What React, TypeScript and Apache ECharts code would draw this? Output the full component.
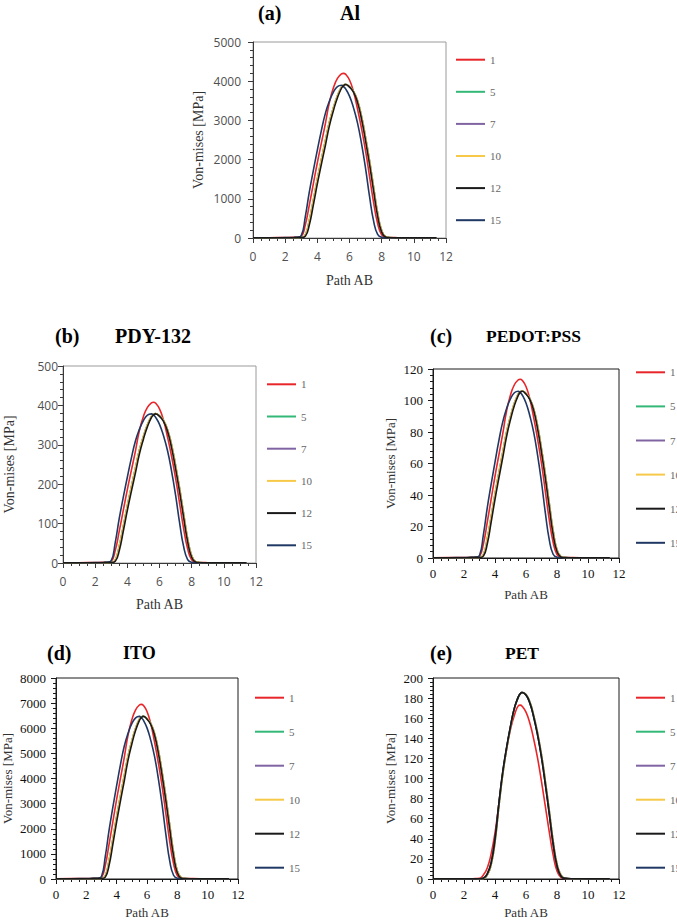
import { useEffect, useRef } from 'react';
import * as echarts from 'echarts';

// Position along path AB (shared sample points for every curve)
const PATH_AB = [0, 1, 2, 2.5, 2.75, 3, 3.25, 3.5, 3.75, 4, 4.25, 4.5, 4.75, 5, 5.25, 5.5, 5.625, 5.75, 6, 6.25, 6.5, 6.75, 7, 7.25, 7.5, 7.75, 8, 8.25, 8.5, 9, 10, 11, 11.4];

const SERIES_NAMES = ['1', '5', '7', '10', '12', '15'];

// (a) Al — von Mises stress [MPa]
const AL_1 = [5, 8, 12, 15, 20, 45, 330, 840, 1380, 1920, 2420, 2920, 3460, 3830, 4070, 4185, 4200, 4180, 4030, 3730, 3290, 2790, 2220, 1560, 900, 370, 80, 20, 12, 8, 5, 4, 3];
const AL_5_7_10 = [3, 4, 6, 8, 9, 12, 75, 450, 960, 1500, 2000, 2480, 2960, 3320, 3630, 3850, 3900, 3920, 3860, 3740, 3500, 3100, 2560, 1960, 1290, 640, 190, 35, 10, 4, 3, 3, 2];
const AL_12 = [3, 4, 6, 8, 9, 10, 45, 330, 840, 1380, 1880, 2360, 2860, 3250, 3580, 3820, 3885, 3915, 3850, 3720, 3460, 3030, 2480, 1870, 1200, 560, 150, 25, 8, 4, 3, 3, 2];
const AL_15 = [5, 7, 10, 14, 20, 60, 540, 1170, 1720, 2240, 2740, 3180, 3490, 3720, 3860, 3895, 3860, 3810, 3620, 3320, 2930, 2400, 1770, 1050, 430, 90, 20, 8, 5, 3, 3, 2, 2];

// (b) PDY-132
const PDY_1 = [0.5, 0.8, 1.2, 1.5, 1.9, 4.4, 32, 81.6, 134, 186.4, 235, 283.5, 336, 371.9, 395.2, 406.4, 408, 405.9, 391.3, 362.2, 319.5, 270.9, 215.6, 151.5, 87.4, 35.9, 7.8, 1.9, 1.2, 0.8, 0.5, 0.4, 0.3];
const PDY_5_7_10 = [0.3, 0.4, 0.6, 0.8, 0.9, 1.2, 7.3, 43.5, 92.8, 145.1, 193.4, 239.8, 286.2, 321, 351, 372.3, 377.1, 379.1, 373.3, 361.7, 338.5, 299.8, 247.6, 189.5, 124.7, 61.9, 18.4, 3.4, 1, 0.4, 0.3, 0.3, 0.2];
const PDY_12 = [0.3, 0.4, 0.6, 0.8, 0.9, 1, 4.4, 31.9, 81.2, 133.4, 181.8, 228.2, 276.6, 314.3, 346.2, 369.4, 375.7, 378.6, 372.3, 359.7, 334.6, 293, 239.8, 180.8, 116, 54.2, 14.5, 2.4, 0.8, 0.4, 0.3, 0.3, 0.2];
const PDY_15 = [0.5, 0.7, 1, 1.4, 1.9, 5.8, 52.5, 113.7, 167.2, 217.7, 266.3, 309.1, 339.2, 361.6, 375.2, 378.6, 375.2, 370.3, 351.9, 322.7, 284.8, 233.3, 172, 102.1, 41.8, 8.7, 1.9, 0.8, 0.5, 0.3, 0.3, 0.2, 0.2];

// (c) PEDOT:PSS
const PEDOT_1 = [0.14, 0.22, 0.32, 0.41, 0.54, 1.2, 8.9, 22.7, 37.3, 51.9, 65.4, 78.9, 93.5, 103.5, 110, 113.1, 113.5, 112.9, 108.9, 100.8, 88.9, 75.4, 60, 42.2, 24.3, 10, 2.2, 0.54, 0.32, 0.22, 0.14, 0.11, 0.08];
const PEDOT_5_7_10 = [0.08, 0.11, 0.16, 0.22, 0.24, 0.32, 2, 12.2, 26, 40.6, 54.1, 67.1, 80, 89.8, 98.2, 104.1, 105.5, 106, 104.4, 101.1, 94.6, 83.8, 69.2, 53, 34.9, 17.3, 5.1, 0.95, 0.27, 0.11, 0.08, 0.08, 0.05];
const PEDOT_12 = [0.08, 0.11, 0.16, 0.22, 0.24, 0.27, 1.2, 8.9, 22.7, 37.3, 50.8, 63.8, 77.3, 87.9, 96.8, 103.3, 105.1, 105.9, 104.1, 100.6, 93.6, 81.9, 67.1, 50.6, 32.4, 15.1, 4.1, 0.68, 0.22, 0.11, 0.08, 0.08, 0.05];
const PEDOT_15 = [0.14, 0.19, 0.27, 0.38, 0.54, 1.6, 14.7, 31.8, 46.7, 60.9, 74.5, 86.4, 94.9, 101.1, 104.9, 105.9, 104.9, 103.6, 98.4, 90.2, 79.6, 65.2, 48.1, 28.5, 11.7, 2.4, 0.54, 0.22, 0.14, 0.08, 0.08, 0.05, 0.05];

// (d) ITO
const ITO_1 = [8, 13, 20, 25, 33, 74, 546, 1390, 2284, 3177, 4005, 4832, 5726, 6338, 6735, 6925, 6950, 6917, 6669, 6172, 5444, 4617, 3674, 2581, 1489, 612, 132, 33, 20, 13, 8, 7, 5];
const ITO_5_7_10 = [5, 7, 10, 13, 15, 20, 124, 744, 1587, 2480, 3306, 4100, 4893, 5488, 6001, 6364, 6447, 6480, 6381, 6183, 5786, 5125, 4232, 3240, 2132, 1058, 314, 58, 17, 7, 5, 5, 3];
const ITO_12 = [5, 7, 10, 13, 15, 17, 74, 546, 1389, 2281, 3108, 3901, 4728, 5373, 5918, 6315, 6422, 6472, 6364, 6150, 5720, 5009, 4100, 3091, 1984, 926, 248, 41, 13, 7, 5, 5, 3];
const ITO_15 = [8, 12, 17, 23, 33, 100, 897, 1944, 2858, 3722, 4553, 5284, 5799, 6181, 6413, 6472, 6413, 6330, 6015, 5516, 4868, 3988, 2941, 1745, 714, 150, 33, 13, 8, 5, 5, 3, 3];

// (e) PET
const PET_1 = [0.1, 0.1, 0.2, 0.3, 0.4, 0.6, 4, 11, 25, 46, 75, 105, 129, 149, 163, 172.3, 173, 172, 166, 155, 139, 120, 97, 72, 47, 24, 8, 1.5, 0.4, 0.2, 0.1, 0.1, 0.1];
const PET_5_7_10 = [0.1, 0.1, 0.1, 0.1, 0.1, 0.2, 0.6, 4, 14, 37, 72, 104, 129.5, 151, 169.5, 180.8, 184, 185.7, 183.5, 176, 162.5, 145, 123.5, 97, 68, 38, 15, 4, 0.8, 0.2, 0.1, 0.1, 0.1];
const PET_12 = [0.1, 0.1, 0.1, 0.1, 0.1, 0.2, 0.8, 5, 16, 40, 75, 106.5, 131, 152, 170, 181, 184.3, 185.6, 183, 175, 161, 143, 121, 94, 65, 35, 13, 3, 0.6, 0.2, 0.1, 0.1, 0.1];
const PET_15 = [0.1, 0.1, 0.1, 0.1, 0.1, 0.2, 0.8, 5, 16, 40, 75, 106.5, 131, 152, 170, 181, 184.3, 185.6, 183, 175, 161, 143, 121, 94, 65, 35, 13, 3, 0.6, 0.2, 0.1, 0.1, 0.1];

const COLORS: Record<string, string> = {
  '1': '#e8262a',
  '5': '#33b877',
  '7': '#8064a2',
  '10': '#f7c948',
  '12': '#1a1a1a',
  '15': '#203864',
};

const SERIF = '"Liberation Serif", "Times New Roman", serif';
const SANS = '"Open Sans", "Noto Sans", sans-serif';

type Panel = {
  letter: string;
  material: string;
  letterX: number;
  materialX: number;
  titleY: number;
  materialSize: number;
  grid: { left: number; top: number; width: number; height: number };
  yMax: number;
  yInterval: number;
  sans: boolean;
  frame: string;
  axis: string;
  yLabelMargin: number;
  xLabelMargin: number;
  yNameGap: number;
  xNameGap: number;
  nameSize: number;
  legend: { left: number; top: number; gap: number };
  curves: Record<string, number[]>;
};

const PANELS: Panel[] = [
  {
    letter: '(a)', material: 'Al', letterX: 258, materialX: 340, titleY: 13, materialSize: 20,
    grid: { left: 253, top: 42, width: 193, height: 196 },
    yMax: 5000, yInterval: 1000, sans: true, frame: '#9a9a9a', axis: '#3a3a3a',
    yLabelMargin: 12, xLabelMargin: 12, yNameGap: 48, xNameGap: 35, nameSize: 14,
    legend: { left: 455, top: 53.7, gap: 20.1 },
    curves: { '1': AL_1, '5': AL_5_7_10, '7': AL_5_7_10, '10': AL_5_7_10, '12': AL_12, '15': AL_15 },
  },
  {
    letter: '(b)', material: 'PDY-132', letterX: 55, materialX: 115, titleY: 336, materialSize: 20,
    grid: { left: 63, top: 366, width: 193, height: 197 },
    yMax: 500, yInterval: 100, sans: true, frame: '#9a9a9a', axis: '#3a3a3a',
    yLabelMargin: 5, xLabelMargin: 12, yNameGap: 47, xNameGap: 34, nameSize: 14,
    legend: { left: 266, top: 378.3, gap: 20.2 },
    curves: { '1': PDY_1, '5': PDY_5_7_10, '7': PDY_5_7_10, '10': PDY_5_7_10, '12': PDY_12, '15': PDY_15 },
  },
  {
    letter: '(c)', material: 'PEDOT:PSS', letterX: 430, materialX: 486, titleY: 336, materialSize: 17.5,
    grid: { left: 433, top: 369, width: 186, height: 189 },
    yMax: 120, yInterval: 20, sans: false, frame: '#1a1a1a', axis: '#1a1a1a',
    yLabelMargin: 10, xLabelMargin: 9, yNameGap: 36, xNameGap: 30, nameSize: 13,
    legend: { left: 635, top: 366.3, gap: 22.1 },
    curves: { '1': PEDOT_1, '5': PEDOT_5_7_10, '7': PEDOT_5_7_10, '10': PEDOT_5_7_10, '12': PEDOT_12, '15': PEDOT_15 },
  },
  {
    letter: '(d)', material: 'ITO', letterX: 47, materialX: 123, titleY: 653, materialSize: 18,
    grid: { left: 52, top: 678, width: 186, height: 205 },
    yMax: 8000, yInterval: 1000, sans: false, frame: '#1a1a1a', axis: '#1a1a1a',
    yLabelMargin: 10, xLabelMargin: 9, yNameGap: 42, xNameGap: 27, nameSize: 13,
    legend: { left: 254, top: 691.7, gap: 22 },
    curves: { '1': ITO_1, '5': ITO_5_7_10, '7': ITO_5_7_10, '10': ITO_5_7_10, '12': ITO_12, '15': ITO_15 },
  },
  {
    letter: '(e)', material: 'PET', letterX: 430, materialX: 505, titleY: 653, materialSize: 17.5,
    grid: { left: 433, top: 678, width: 186, height: 205 },
    yMax: 200, yInterval: 20, sans: false, frame: '#1a1a1a', axis: '#1a1a1a',
    yLabelMargin: 10, xLabelMargin: 9, yNameGap: 36, xNameGap: 27, nameSize: 13,
    legend: { left: 635, top: 691.7, gap: 22 },
    curves: { '1': PET_1, '5': PET_5_7_10, '7': PET_5_7_10, '10': PET_5_7_10, '12': PET_12, '15': PET_15 },
  },
];

// Draw order: blue sits beneath black where they coincide
const DRAW_ORDER = ['1', '5', '7', '10', '15', '12'];

const toPairs = (ys: number[]) => PATH_AB.map((x, i) => [x, ys[i]]);
const plainNumber = (v: number) => String(v);

function buildOption(): echarts.EChartsOption {
  const grid = PANELS.map((p) => ({
    ...p.grid,
    show: true,
    borderColor: p.frame,
    borderWidth: 1,
    backgroundColor: 'transparent',
  }));

  const tickFont = (p: Panel) => ({
    fontFamily: p.sans ? SANS : SERIF,
    fontSize: p.sans ? 12 : 13,
    color: p.sans ? '#505050' : '#111',
  });

  const xAxis = PANELS.map((p, i) => ({
    type: 'value' as const,
    gridIndex: i,
    min: 0,
    max: 12,
    interval: 2,
    name: 'Path AB',
    nameLocation: 'middle' as const,
    nameGap: p.xNameGap,
    nameTextStyle: { fontFamily: SERIF, fontSize: p.nameSize, color: '#333' },
    axisLine: { show: true, onZero: false, lineStyle: { color: p.axis, width: 1 } },
    axisTick: { show: true, length: 5, lineStyle: { color: p.axis } },
    minorTick: { show: true, splitNumber: 4, length: 3, lineStyle: { color: p.axis } },
    splitLine: { show: false },
    axisLabel: { margin: p.xLabelMargin, formatter: plainNumber, ...tickFont(p) },
  }));

  const yAxis = PANELS.map((p, i) => ({
    type: 'value' as const,
    gridIndex: i,
    min: 0,
    max: p.yMax,
    interval: p.yInterval,
    name: 'Von-mises [MPa]',
    nameLocation: 'middle' as const,
    nameGap: p.yNameGap,
    nameTextStyle: { fontFamily: SERIF, fontSize: p.nameSize, color: '#333' },
    axisLine: { show: true, lineStyle: { color: p.axis, width: 1 } },
    axisTick: { show: true, length: 5, lineStyle: { color: p.axis } },
    minorTick: { show: true, splitNumber: 5, length: 3, lineStyle: { color: p.axis } },
    splitLine: { show: false },
    axisLabel: { margin: p.yLabelMargin, formatter: plainNumber, ...tickFont(p) },
  }));

  const legend = PANELS.map((p) => ({
    orient: 'vertical' as const,
    left: p.legend.left,
    top: p.legend.top,
    padding: 0,
    itemGap: p.legend.gap,
    itemWidth: 29,
    itemHeight: 12,
    selectedMode: false,
    data: SERIES_NAMES,
    // line-only keys: hide the symbol drawn in the middle of the key
    itemStyle: { opacity: 0, borderWidth: 0 },
    lineStyle: { width: 2 },
    textStyle: { fontFamily: SERIF, fontSize: 11, color: '#666', lineHeight: 12 },
  }));

  const series = PANELS.flatMap((p, i) =>
    DRAW_ORDER.map((name) => ({
      type: 'line' as const,
      name,
      xAxisIndex: i,
      yAxisIndex: i,
      data: toPairs(p.curves[name]),
      symbol: 'none',
      smooth: 0.5,
      color: COLORS[name],
      lineStyle: { width: 1.6, color: COLORS[name] },
    }))
  );

  const graphic = PANELS.flatMap((p) => [
    {
      type: 'text' as const,
      x: p.letterX,
      y: p.titleY,
      style: {
        text: p.letter,
        fontFamily: SERIF,
        fontWeight: 'bold' as const,
        fontSize: 20,
        fill: '#000',
        textAlign: 'left' as const,
        textVerticalAlign: 'middle' as const,
      },
    },
    {
      type: 'text' as const,
      x: p.materialX,
      y: p.titleY,
      style: {
        text: p.material,
        fontFamily: SERIF,
        fontWeight: 'bold' as const,
        fontSize: p.materialSize,
        fill: '#000',
        textAlign: 'left' as const,
        textVerticalAlign: 'middle' as const,
      },
    },
  ]);

  return {
    animation: false,
    backgroundColor: '#ffffff',
    grid,
    xAxis,
    yAxis,
    legend,
    series,
    graphic,
  } as echarts.EChartsOption;
}

export default function App() {
  const ref = useRef<HTMLDivElement>(null);

  useEffect(() => {
    if (!ref.current) return;
    const chart = echarts.init(ref.current, null, { renderer: 'svg' });
    chart.setOption(buildOption());
    return () => chart.dispose();
  }, []);

  return (
    <div
      ref={ref}
      style={{ position: 'fixed', left: 0, top: 0, width: 677, height: 920, background: '#fff' }}
    />
  );
}
